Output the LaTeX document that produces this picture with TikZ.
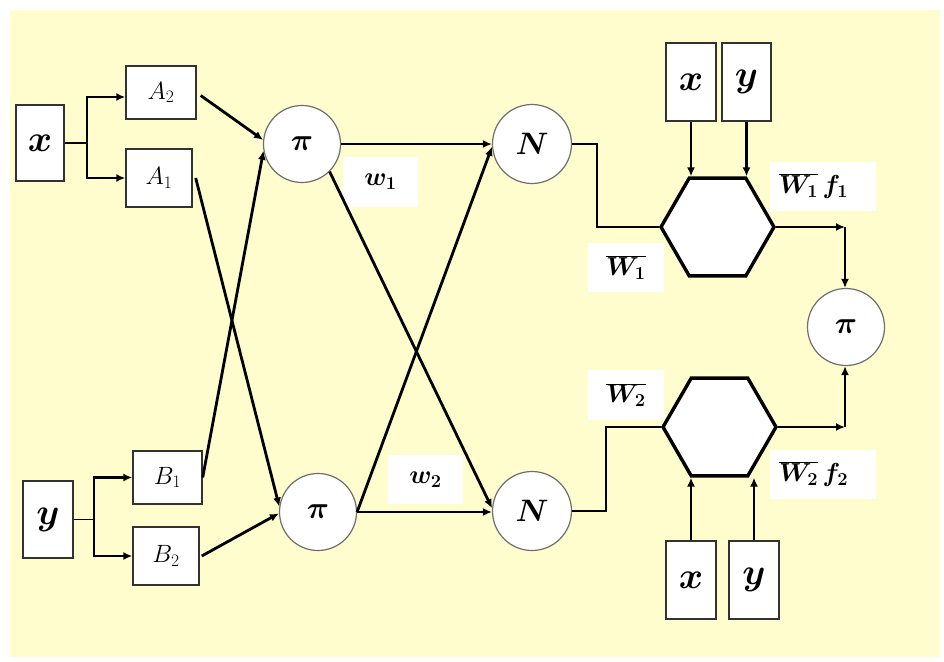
\RequirePackage{fix-cm}
\documentclass[tikz,border=0pt]{standalone}
\usepackage{bm}
\usetikzlibrary{arrows.meta,shapes.geometric}
\definecolor{paper}{RGB}{255,253,206}
\definecolor{rim}{RGB}{50,50,50}
\definecolor{ring}{RGB}{110,110,110}

\begin{document}
\begin{tikzpicture}[x=1pt,y=-1pt,
  box/.style={draw=rim, line width=1.4pt, fill=white, inner sep=0pt},
  unit/.style={circle, draw=ring, line width=1.2pt, fill=white, minimum size=77pt, inner sep=0pt},
  hexa/.style={regular polygon, regular polygon sides=6, draw=black, line width=3.4pt,
               fill=white, minimum size=113pt, inner sep=0pt},
  tag/.style={fill=white, inner sep=0pt},
  stem/.style={line width=1.4pt},
  wire/.style={line width=2.8pt},
  arr/.style={wire, -{Latex[length=9pt,width=8pt]}},
  big/.style={font=\fontsize{37}{40}\selectfont},
  mid/.style={font=\fontsize{31}{34}\selectfont},
  lab/.style={font=\fontsize{25}{28}\selectfont},
  wlab/.style={font=\fontsize{26}{28}\selectfont},
]
\useasboundingbox (0,0) rectangle (944,661);
\fill[paper] (10,10) rectangle (940,657);

% inputs and membership functions
\node[box, minimum width=48pt, minimum height=76pt, big] (x0) at (40,143) {$\bm{x}$};
\node[box, minimum width=70pt, minimum height=53pt, lab] (A2) at (161,92.5) {$A_2$};
\node[box, minimum width=66pt, minimum height=58pt, lab] (A1) at (159,178) {$A_1$};
\node[box, minimum width=50pt, minimum height=77pt, big] (y0) at (48,519.5) {$\bm{y}$};
\node[box, minimum width=69pt, minimum height=53pt, lab] (B1) at (167.5,477.5) {$B_1$};
\node[box, minimum width=66pt, minimum height=58pt, lab] (B2) at (166,556) {$B_2$};

% product and normalisation units
\node[unit, mid] (pi1) at (302,144) {$\bm{\pi}$};
\node[unit, mid] (pi2) at (318,512) {$\bm{\pi}$};
\node[unit, minimum size=79pt, mid] (N1) at (532,144) {$\bm{N}$};
\node[unit, minimum size=79pt, mid] (N2) at (532,511) {$\bm{N}$};
\node[unit, mid] (pi3) at (846,327) {$\bm{\pi}$};

% rule consequent blocks
\node[hexa] (h1) at (717.5,227) {};
\node[hexa] (h2) at (719.5,427) {};

\node[box, minimum width=50pt, minimum height=78pt, big] (xa) at (691,82) {$\bm{x}$};
\node[box, minimum width=49pt, minimum height=78pt, big] (ya) at (746.5,82) {$\bm{y}$};
\node[box, minimum width=50pt, minimum height=78pt, big] (xb) at (691,580) {$\bm{x}$};
\node[box, minimum width=50pt, minimum height=78pt, big] (yb) at (754,580) {$\bm{y}$};

% weight labels
\node[tag, minimum width=75pt, minimum height=50pt, wlab] (w1) at (380.5,182) {$\bm{w}_{\bm{1}}$};
\node[tag, minimum width=75pt, minimum height=49pt, wlab] (w2) at (425.5,479.5) {$\bm{w}_{\bm{2}}$};
\node[tag, minimum width=76pt, minimum height=49pt, wlab] (W1) at (626,267.5) {$\overline{\bm{W}_{\bm{1}}}$};
\node[tag, minimum width=76pt, minimum height=50pt, wlab] (W2) at (626,395) {$\overline{\bm{W}_{\bm{2}}}$};
\node[tag, text width=88pt, align=left, inner xsep=9pt, minimum height=49pt, wlab] (W1f) at (823,186.5)
  {$\overline{\bm{W}_{\bm{1}}}\,\bm{f}_{\bm{1}}$};
\node[tag, text width=88pt, align=left, inner xsep=9pt, minimum height=49pt, wlab] (W2f) at (823,474.5)
  {$\overline{\bm{W}_{\bm{2}}}\,\bm{f}_{\bm{2}}$};

% input fan-out
\coordinate (xs) at (87,143);
\coordinate (ys) at (94,519.5);
\draw[stem] (x0.east) -- (xs);
\draw[arr] (xs) |- ([yshift=-4.5pt]A2.west);
\draw[arr] (xs) |- (A1.west);
\draw[stem] (y0.east) -- (ys);
\draw[arr] (ys) |- (B1.west);
\draw[arr] (ys) |- (B2.west);

% memberships to products
\draw[arr] ([xshift=4pt,yshift=-3pt]A2.east) -- (pi1.174);
\draw[arr] (B1.east) -- (pi1.190);
\draw[arr] ([xshift=3pt]A1.east) -- (pi2.172);
\draw[arr] ([xshift=2pt]B2.east) -- (pi2.182);

% products to normalisation
\draw[arr] (pi1.east) -- (N1.west);
\draw[arr] (pi1.-45) -- (N2.176);
\draw[arr] (pi2.east) -- (N1.184);
\draw[arr] (pi2.east) -- (pi2.east -| N2.west);

% normalised weights into consequents
\draw[wire] (N1.east) -- (597,144) |- (h1.west);
\draw[wire] (N2.east) -- (606,511) |- (h2.west);

% consequent inputs
\draw[arr] (xa.south) -- (xa.south |- h1.north);
\draw[arr] (ya.south) -- (ya.south |- h1.north);
\draw[arr] (xb.north) -- (xb.north |- h2.south);
\draw[arr] (yb.north) -- (yb.north |- h2.south);

% outputs to the summing product
\coordinate (c1) at (845,227);
\coordinate (c2) at (845,427);
\draw[arr] (h1.east) -- (c1);
\draw[arr] (c1) -- (c1 |- pi3.north);
\draw[arr] (h2.east) -- (c2);
\draw[arr] (c2) -- (c2 |- pi3.south);
\end{tikzpicture}
\end{document}
